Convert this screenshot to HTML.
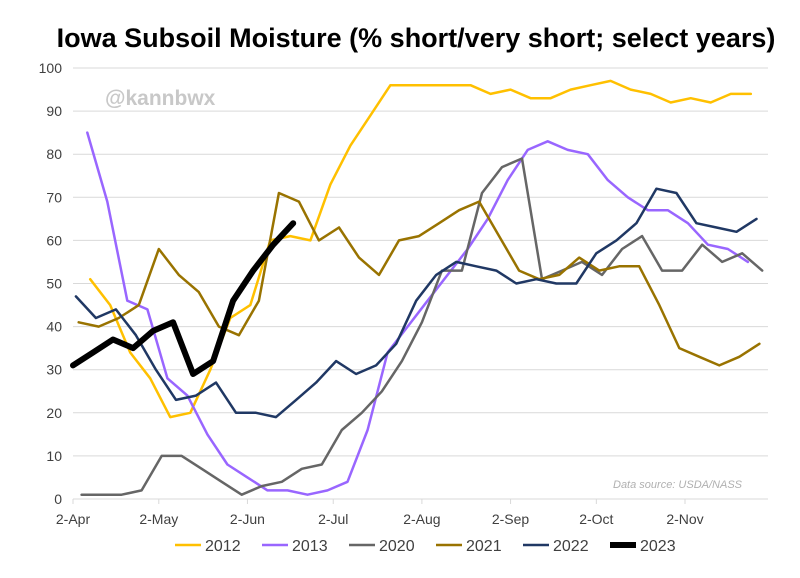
<!DOCTYPE html>
<html><head><meta charset="utf-8"><style>
body{margin:0;background:#fff;font-family:"Liberation Sans",Arial,sans-serif}
svg{display:block}
</style></head><body>
<svg id="chart" width="800" height="578">
<text x="416" y="47" text-anchor="middle" font-size="27" font-weight="bold" fill="#000">Iowa Subsoil Moisture (% short/very short; select years)</text>
<text x="105" y="105" font-size="21" font-weight="bold" fill="#c8c8c8">@kannbwx</text>
<text x="742" y="488" text-anchor="end" font-size="11" font-style="italic" fill="#b0b0b0">Data source: USDA/NASS</text>
<g id="grid"></g><g id="series"></g><g id="legend"></g>
</svg>
<script>
const yTicks=[0,10,20,30,40,50,60,70,80,90,100];
const xTickDays=[0,30,61,91,122,153,183,214];
const xTickLabels=["2-Apr","2-May","2-Jun","2-Jul","2-Aug","2-Sep","2-Oct","2-Nov"];
const seriesNames=["2012","2013","2020","2021","2022","2023"];
const seriesStartDay=[6,5,3,2,1,0];
const v2012=[51,45,34,28,19,20,30,42,45,60,61,60,73,82,89,96,96,96,96,96,94,95,93,93,95,96,97,95,94,92,93,92,94,94];
const v2013=[85,69,46,44,28,24,15,8,5,2,2,1,2,4,16,34,40,46,52,58,65,74,81,83,81,80,74,70,67,67,64,59,58,55];
const v2020=[1,1,1,2,10,10,7,4,1,3,4,7,8,16,20,25,32,41,53,53,71,77,79,51,53,55,52,58,61,53,53,59,55,57,53];
const v2021=[41,40,42,45,58,52,48,40,38,46,71,69,60,63,56,52,60,61,64,67,69,61,53,51,52,56,53,54,54,45,35,33,31,33,36];
const v2022=[47,42,44,38,30,23,24,27,20,20,19,23,27,32,29,31,36,46,52,55,54,53,50,51,50,50,57,60,64,72,71,64,63,62,65];
const v2023=[31,34,37,35,39,41,29,32,46,53,59,64];
const seriesValues=[v2012,v2013,v2020,v2021,v2022,v2023];
const colors=["#ffc000","#9966ff","#666666","#997300","#203864","#000000"];
const widths=[2.5,2.5,2.5,2.5,2.5,6];
const X0=73,X1=768,Y0=499,Y100=68;
const xs=d=>X0+d*(685-73)/214;
const ys=v=>Y0-v*(Y0-Y100)/100;
const NS="http://www.w3.org/2000/svg";
function mk(t,a,p){const e=document.createElementNS(NS,t);for(const k in a)e.setAttribute(k,a[k]);p.appendChild(e);return e;}
const grid=document.getElementById('grid');
yTicks.forEach(t=>{
 const l=mk('line',{x1:X0,x2:X1,y1:ys(t),y2:ys(t),stroke:'#d9d9d9','stroke-width':1},grid);
 
 
 const tx=mk('text',{x:62,y:ys(t)+5,'text-anchor':'end','font-size':14,fill:'#404040'},grid);
 tx.textContent=t;
 
 
});
xTickDays.forEach((d,i)=>{
 const l=mk('line',{x1:xs(d),x2:xs(d),y1:Y0,y2:Y0+5,stroke:'#d9d9d9'},grid);
 
 
 const tx=mk('text',{x:xs(d),y:Y0+25,'text-anchor':'middle','font-size':14,fill:'#404040'},grid);
 tx.textContent=xTickLabels[i];
 
 
});
const sg=document.getElementById('series');
seriesValues.forEach((vals,i)=>{
 const pts=vals.map((v,j)=>xs(seriesStartDay[i]+7*j).toFixed(1)+','+ys(v).toFixed(1)).join(' ');
 const p=mk('polyline',{points:pts,fill:'none',stroke:colors[i],'stroke-width':widths[i],'stroke-linejoin':'round','stroke-linecap':'round'},sg);
 
 
});
const lg=document.getElementById('legend');
seriesNames.forEach((n,i)=>{
 const x=175+i*87;
 const g=mk('g',{},lg);
 
 
 mk('line',{x1:x,x2:x+26,y1:545,y2:545,stroke:colors[i],'stroke-width':widths[i]},g);
 const t=mk('text',{x:x+30,y:551,'font-size':16,fill:'#404040'},g);
 t.textContent=n;
});
</script>
</body></html>
